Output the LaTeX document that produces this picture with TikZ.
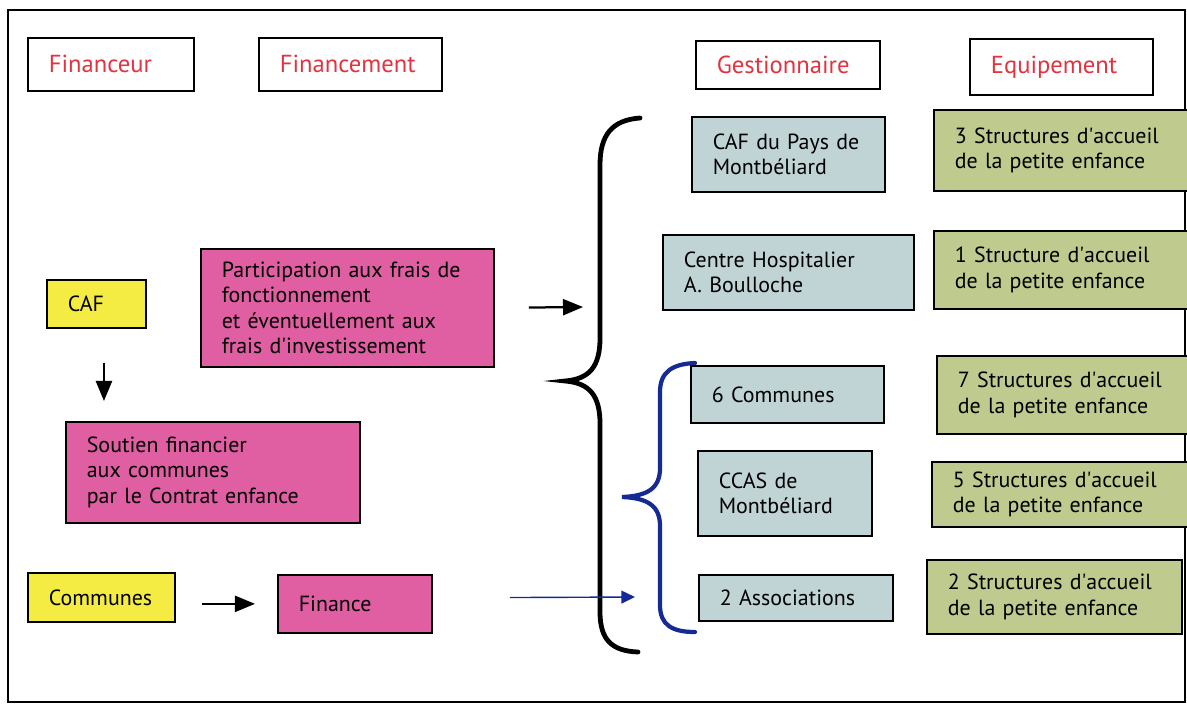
\documentclass[tikz,border=0pt]{standalone}
\usepackage{fontspec}
\setmainfont{PT Sans}
\usetikzlibrary{arrows.meta}
\definecolor{headred}{RGB}{226,52,64}
\definecolor{cafyellow}{RGB}{244,236,66}
\definecolor{finpink}{RGB}{224,94,162}
\definecolor{gestgrey}{RGB}{192,212,214}
\definecolor{equipgreen}{RGB}{190,202,142}
\definecolor{bracebl}{RGB}{22,42,150}
\newcommand{\apos}{\textquotesingle}
\begin{document}
\begin{tikzpicture}[
        x=0.025cm, y=-0.025cm,
        every node/.style={draw, line width=1.2pt, anchor=north west, align=left,
            inner xsep=0.525cm, inner ysep=0pt,
            font=\fontsize{15.6}{18.2}\selectfont},
        headn/.style={fill=white, text=headred, font=\fontsize{17.5}{20}\selectfont},
        yellown/.style={fill=cafyellow},
        pinkn/.style={fill=finpink},
        gestn/.style={fill=gestgrey},
        equipn/.style={fill=equipgreen},
        arr/.style={draw, line width=1.6pt, -{Triangle[length=0.5cm, width=0.4cm]}},
        bluearr/.style={draw=bracebl, line width=1pt, -{Triangle[length=0.34cm, width=0.32cm]}, bracebl},
        bracen/.style={draw, line width=3.4pt, line cap=round},
        bluebracen/.style={draw=bracebl, line width=3pt, line cap=round},
    ]
    \useasboundingbox (0,0) rectangle (1187,705);
    \draw[line width=1.2pt] (8,10) rectangle (1185,702);

    % column headings
    \node[headn, text width=3.1cm, minimum height=1.325cm] (financeur) at (27,37) {Financeur};
    \node[headn, text width=3.525cm, minimum height=1.325cm] (financement) at (258,37) {Financement};
    \node[headn, text width=3.55cm, minimum height=1.2cm] (gestionnaire) at (695,40) {Gestionnaire};
    \node[headn, text width=3.525cm, minimum height=1.4cm] (equipement) at (969,38) {Equipement};

    % financeurs and financements
    \node[yellown, text width=1.425cm, minimum height=1.2cm] (caf) at (46,279) {CAF};
    \node[pinkn, text width=6.275cm, minimum height=2.95cm] (participation) at (200,248)
        {Participation aux frais de\\fonctionnement\\et éventuellement aux\\frais d\apos investissement};
    \node[pinkn, text width=6.3cm, minimum height=2.525cm] (soutien) at (65,421)
        {Soutien financier\\aux communes\\par le Contrat enfance};
    \node[yellown, text width=2.625cm, minimum height=1.225cm] (communes) at (27,572) {Communes};
    \node[pinkn, text width=2.8cm, minimum height=1.45cm] (finance) at (277,574) {Finance};

    % gestionnaires
    \node[gestn, text width=3.775cm, minimum height=1.875cm] (cafpm) at (691,116) {CAF du Pays de\\Montbéliard};
    \node[gestn, text width=5.225cm, minimum height=1.875cm] (hopital) at (662,234) {Centre Hospitalier\\A. Boulloche};
    \node[gestn, text width=3.775cm, minimum height=1.425cm] (sixcom) at (690,365) {6 Communes};
    \node[gestn, text width=3.3cm, minimum height=2.125cm] (ccas) at (697,450) {CCAS de\\Montbéliard};
    \node[gestn, text width=3.8cm, minimum height=1.15cm] (assoc) at (698,574) {2 Associations};

    % equipements
    \node[equipn, text width=5.45cm, minimum height=2.025cm] (eqcafpm) at (933,109) {3 Structures d\apos accueil\\de la petite enfance};
    \node[equipn, text width=5.45cm, minimum height=1.95cm] (eqhopital) at (933,230) {1 Structure d\apos accueil\\de la petite enfance};
    \node[equipn, text width=5.375cm, minimum height=1.95cm] (eqsixcom) at (936,355) {7 Structures d\apos accueil\\de la petite enfance};
    \node[equipn, text width=5.5cm, minimum height=1.625cm] (eqccas) at (931,461) {5 Structures d\apos accueil\\de la petite enfance};
    \node[equipn, text width=5.325cm, minimum height=1.85cm] (eqassoc) at (926,559) {2 Structures d\apos accueil\\de la petite enfance};

    % braces
    \coordinate (bktip) at (583,307);
    \coordinate (bltip) at (635,597);
    \draw[bracen] (640,118) .. controls (612,120) and (600,135) .. (600,165) -- (600,338)
        .. controls (600,366) and (590,379) .. (565,381) .. controls (590,383) and (600,396) .. (600,424)
        -- (600,612) .. controls (600,640) and (612,651) .. (638,652);
    \draw[bluebracen] (695,363) .. controls (672,364) and (660,372) .. (660,392) -- (660,468)
        .. controls (660,488) and (648,496) .. (622,497) .. controls (648,498) and (660,506) .. (660,526)
        -- (660,605) .. controls (660,625) and (672,632) .. (695,632);

    % arrows
    \draw[arr, shorten <=0.85cm, shorten >=0.5cm] ([xshift=0.19cm]caf.south) -- ([xshift=0.19cm]caf.south |- soutien.north);
    \draw[arr, shorten <=0.85cm] (participation.east) -- (bktip);
    \draw[arr, shorten <=0.65cm, shorten >=0.55cm] (communes.east |- finance.west) -- (finance.west);
    \draw[bluearr, shorten <=1.925cm] ([yshift=0.15cm]finance.east) -- (bltip);
\end{tikzpicture}
\end{document}
